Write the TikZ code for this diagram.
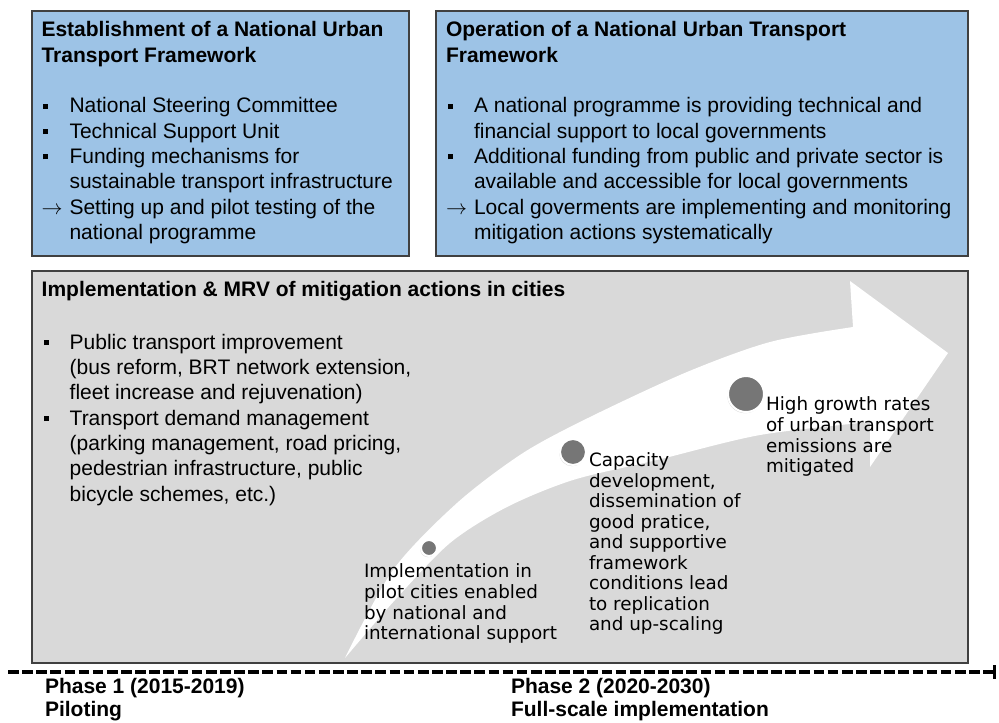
\RequirePackage{fix-cm}
\documentclass[tikz,border=0pt]{standalone}
\usepackage{fontspec}
\setmainfont{Liberation Sans}
\newfontfamily\arrowfont{DejaVu Sans}
\usetikzlibrary{arrows.meta,shadows}

\definecolor{boxblue}{RGB}{157,195,230}
\definecolor{boxgray}{RGB}{217,217,217}
\definecolor{edgegray}{RGB}{64,64,64}
\definecolor{dotgray}{RGB}{118,118,118}

\newcommand{\sqbullet}{\makebox[21pt][l]{\hspace{1.5pt}\rule[3pt]{3.75pt}{3.75pt}}}
\newcommand{\arrbullet}{\makebox[21pt][l]{$\rightarrow$}}
\newcommand{\hang}{\hspace*{21pt}}

\begin{document}
\begin{tikzpicture}[x=0.75pt, y=-0.75pt,
  every node/.style={inner sep=0pt, outer sep=0pt, anchor=north west, align=left},
  boxtext/.style={font=\fontsize{15.75pt}{19pt}\selectfont},
  phasetext/.style={font=\bfseries\fontsize{15.75pt}{17.8pt}\selectfont},
  arrowtext/.style={font=\arrowfont\fontsize{13.75pt}{15.4pt}\selectfont},
  dot/.style={circle, anchor=center, fill=dotgray, draw=white, line width=1.5pt,
    drop shadow={shadow xshift=-0.6pt, shadow yshift=-0.9pt, opacity=0.3}}]
\useasboundingbox (0,0) rectangle (999,722);

\draw[fill=boxblue, draw=edgegray, line width=1.1pt] (32,11) rectangle (409,256);
\draw[fill=boxblue, draw=edgegray, line width=1.1pt] (436,11) rectangle (968,256);
\draw[fill=boxgray, draw=edgegray, line width=1.1pt] (32,271) rectangle (968,663);

\fill[white] plot[smooth] coordinates {(345,658) (393,570) (457,503) (523,453) (590,417) (687,372) (770,342) (853,327)}
  -- (850,281) -- (948,353) -- (870,467)
  -- plot[smooth] coordinates {(870,422) (760,435) (657,460) (573,480) (507,507) (450,543) (395,600) (345,658)} -- cycle;

\node[boxtext] (estab) at (41.5,19) {\strut\textbf{Establishment of a National Urban}\\
\textbf{Transport Framework}\\[19pt]
\sqbullet National Steering Committee\\
\sqbullet Technical Support Unit\\
\sqbullet Funding mechanisms for\\
\hang sustainable transport infrastructure\\
\arrbullet Setting up and pilot testing of the\\
\hang national programme};

\node[boxtext] (oper) at (446,19) {\strut\textbf{Operation of a National Urban Transport}\\
\textbf{Framework}\\[19pt]
\sqbullet A national programme is providing technical and\\
\hang financial support to local governments\\
\sqbullet Additional funding from public and private sector is\\
\hang available and accessible for local governments\\
\arrbullet Local goverments are implementing and monitoring\\
\hang mitigation actions systematically};

\node[boxtext] (cities) at (41.7,279) {\strut\textbf{Implementation \& MRV of mitigation actions in cities}\\[20.25pt]
\sqbullet Public transport improvement\\
\hang (bus reform, BRT network extension,\\
\hang fleet increase and rejuvenation)\\
\sqbullet Transport demand management\\
\hang (parking management, road pricing,\\
\hang pedestrian infrastructure, public\\
\hang bicycle schemes, etc.)};

\node[dot, minimum size=12pt] (step1) at (429,548) {};
\node[dot, minimum size=19.5pt] (step2) at (573,452) {};
\node[dot, minimum size=27pt] (step3) at (746,394) {};

\node[arrowtext] (pilot) at (364,563.6) {\strut Implementation in\\ pilot cities enabled\\ by national and\\ international support};
\node[arrowtext] (upscale) at (589,452.3) {\strut Capacity\\ development,\\ dissemination of\\ good pratice,\\ and supportive\\ framework\\ conditions lead\\ to replication\\ and up-scaling};
\node[arrowtext] (mitig) at (766,396.6) {\strut High growth rates\\ of urban transport\\ emissions are\\ mitigated};

\coordinate (t0) at (8,672);
\coordinate (t1) at (996,672);
\draw[line width=2.4pt, dash pattern=on 8pt off 2.6pt, -{Bar[width=10pt,line width=2pt]}] (t0) -- (t1);

\node[phasetext] (phase1) at (45,676.4) {\strut Phase 1 (2015-2019)\\ Piloting};
\node[phasetext] (phase2) at (511,676.4) {\strut Phase 2 (2020-2030)\\ Full-scale implementation};
\end{tikzpicture}
\end{document}
